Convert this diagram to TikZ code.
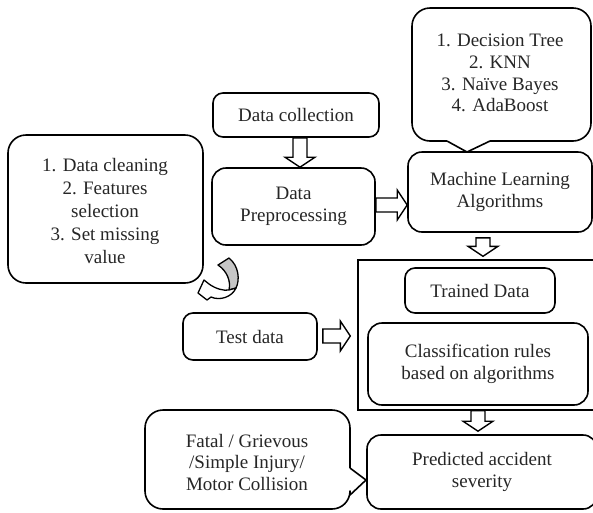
\documentclass[tikz,border=0pt]{standalone}
\usepackage{fontspec}
\setmainfont{Liberation Serif}
\usetikzlibrary{calc}
\newcommand\vblk[3]{% #1 x, #2 from, #3 to
  \draw[blk] let \p1=(#2), \p2=(#3) in
  (#1pt-7pt,\y1) -- (#1pt+7pt,\y1) -- (#1pt+7pt,\y2+10pt) -- (#1pt+15pt,\y2+10pt)
  -- (#1pt,\y2) -- (#1pt-15pt,\y2+10pt) -- (#1pt-7pt,\y2+10pt) -- cycle;}
\newcommand\hblk[3]{% #1 y, #2 from, #3 to
  \draw[blk] let \p1=(#2), \p2=(#3) in
  (\x1,-#1pt+7pt) -- (\x2-10pt,-#1pt+7pt) -- (\x2-10pt,-#1pt+15pt) -- (\x2,-#1pt)
  -- (\x2-10pt,-#1pt-15pt) -- (\x2-10pt,-#1pt-7pt) -- (\x1,-#1pt-7pt) -- cycle;}
\begin{document}
\begin{tikzpicture}[x=1pt,y=-1pt,
  box/.style={draw, line width=1.6pt, rounded corners=10pt, align=center,
    font=\fontsize{19}{22}\selectfont, text=black!85, inner sep=0pt},
  txt/.style={align=center, font=\fontsize{19}{22}\selectfont, text=black!85, inner sep=0pt},
  co/.style={draw, line width=1.6pt, line join=round},
  blk/.style={draw, line width=1.4pt, fill=white, line join=miter}]
\path[use as bounding box, fill=white] (0,0) rectangle (593,512);
\clip (0,0) rectangle (593,512);

% boxes
\node[box, minimum width=166pt, minimum height=44pt] (dc) at (296,115) {Data collection};
\node[box, rounded corners=14pt, minimum width=163pt, minimum height=77pt] (dp) at (293.5,206.5) {Data\\Preprocessing};
\node[box, rounded corners=14pt, minimum width=184pt, minimum height=80pt] (ml) at (500,192) {Machine Learning\\Algorithms};
\node[draw, line width=1.4pt, minimum width=242pt, minimum height=150pt, inner sep=0pt] (grp) at (479,335) {};
\node[box, minimum width=150pt, minimum height=45pt] (trained) at (480,290.5) {Trained Data};
\node[box, rounded corners=14pt, minimum width=220pt, minimum height=82pt] (cls) at (478,364) {Classification rules\\based on algorithms};
\node[box, minimum width=134pt, minimum height=47pt] (test) at (250,336.5) {Test data};
\node[box, rounded corners=14pt, minimum width=230pt, minimum height=74pt] (pred) at (482,472) {Predicted accident\\severity};

% callouts
\draw[co] (447,141) -- (467,152) -- (490,141);
\draw[co, rounded corners=18pt] (490,141) -- (591,141) -- (591,8) -- (412,8) -- (412,141) -- (447,141);
\node[txt, font=\fontsize{19}{21.7}\selectfont] (algo) at (500,73) {1. Decision Tree\\2. KNN\\3. Naïve Bayes\\4. AdaBoost};

\draw[co, rounded corners=18pt] (8,135) rectangle (203,283);
\node[txt, font=\fontsize{19}{23}\selectfont] (prep) at (105,211) {1. Data cleaning\\2. Features\\selection\\3. Set missing\\value};

\draw[co, rounded corners=18pt] (350,468) -- (350,410) -- (145,410) -- (145,509) -- (350,509) -- (350,495);
\draw[co] (350,468) -- (366,480) -- (350,495);
\node[txt, font=\fontsize{19}{21.5}\selectfont] (sev) at (247,462) {Fatal / Grievous\\/Simple Injury/\\Motor Collision};

% block arrows
\vblk{300}{dc.south}{dp.north}
\hblk{205}{dp.east}{ml.west}
\vblk{483}{[yshift=-5pt]ml.south}{[yshift=3pt]grp.north}
\hblk{336}{[xshift=5pt]test.east}{[xshift=-7pt]grp.west}
\vblk{478}{grp.south}{[yshift=3pt]pred.north}

% curved arrow
\draw[line width=1.3pt, fill=gray!45, line join=round] (218,265) -- (229,258)
  .. controls (239,266) and (240,280) .. (236,288) -- (229,290)
  .. controls (231,281) and (227,271) .. (218,265) -- cycle;
\draw[line width=1.3pt, fill=white, line join=round] (198,293) -- (204,280) -- (209,284)
  .. controls (216,289) and (224,291) .. (229,290) -- (236,288)
  .. controls (232,297) and (220,301) .. (211,297) -- (207,300) -- cycle;
\end{tikzpicture}
\end{document}
